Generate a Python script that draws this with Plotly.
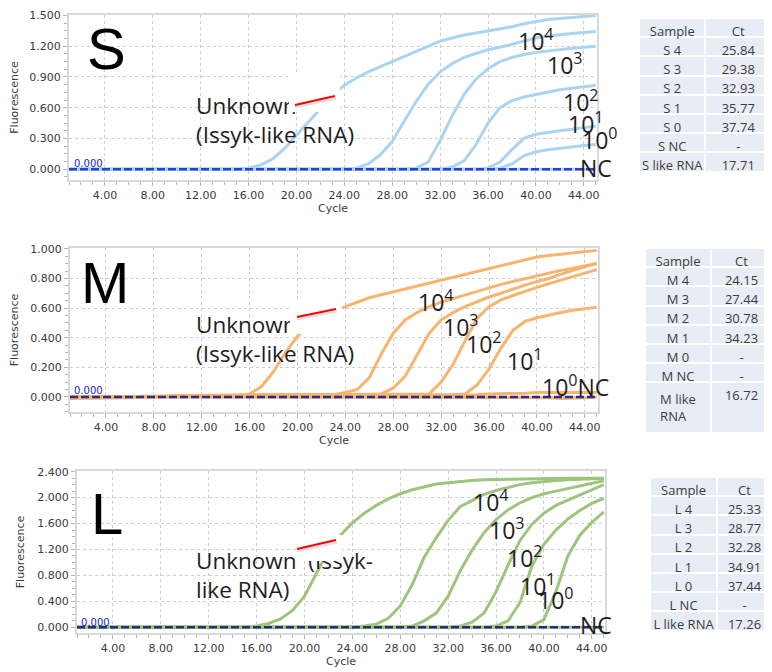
import plotly.graph_objects as go

W, H = 772, 672
OFF = 8  # the page body margin shifts the figure by 8 px
cycles = list(range(1, 46))

# ---------------- S segment ----------------
s_unknown = [0, 0, 0, 0, 0, 0, 0, 0, 0, 0, 0, 0, 0, 0, 0,
             0.01, 0.04, 0.10, 0.20, 0.33, 0.46, 0.60, 0.72, 0.82, 0.89,
             0.95, 1.00, 1.05, 1.10, 1.15, 1.20, 1.25, 1.28, 1.31, 1.33,
             1.35, 1.37, 1.39, 1.42, 1.44, 1.46, 1.47, 1.48, 1.49, 1.50]
s_1e4 = [0, 0, 0, 0, 0, 0, 0, 0, 0, 0, 0, 0, 0, 0, 0, 0, 0, 0, 0, 0,
         0, 0, 0, 0, 0.01, 0.05, 0.14, 0.27, 0.47, 0.66,
         0.83, 0.95, 1.03, 1.09, 1.13, 1.165, 1.19, 1.22, 1.25, 1.28,
         1.30, 1.315, 1.325, 1.335, 1.345]
s_1e3 = [0, 0, 0, 0, 0, 0, 0, 0, 0, 0, 0, 0, 0, 0, 0, 0, 0, 0, 0, 0,
         0, 0, 0, 0, 0, 0, 0, 0, 0, 0.01,
         0.07, 0.28, 0.52, 0.73, 0.88, 0.98, 1.05, 1.09, 1.12, 1.14,
         1.155, 1.17, 1.18, 1.19, 1.20]
s_1e2 = [0, 0, 0, 0, 0, 0, 0, 0, 0, 0, 0, 0, 0, 0, 0, 0, 0, 0, 0, 0,
         0, 0, 0, 0, 0, 0, 0, 0, 0, 0,
         0, 0, 0.02, 0.08, 0.24, 0.45, 0.60, 0.67, 0.705, 0.73,
         0.75, 0.775, 0.79, 0.805, 0.82]
s_1e1 = [0, 0, 0, 0, 0, 0, 0, 0, 0, 0, 0, 0, 0, 0, 0, 0, 0, 0, 0, 0,
         0, 0, 0, 0, 0, 0, 0, 0, 0, 0,
         0, 0, 0, 0, 0, 0.01, 0.07, 0.19, 0.30, 0.34,
         0.36, 0.375, 0.39, 0.405, 0.42]
s_1e0 = [0, 0, 0, 0, 0, 0, 0, 0, 0, 0, 0, 0, 0, 0, 0, 0, 0, 0, 0, 0,
         0, 0, 0, 0, 0, 0, 0, 0, 0, 0,
         0, 0, 0, 0, 0, 0, 0.01, 0.05, 0.13, 0.17,
         0.19, 0.205, 0.22, 0.23, 0.24]
s_nc = [0] * 45

# ---------------- M segment ----------------
m_unknown = [0, 0, 0, 0, 0, 0, 0, 0, 0, 0, 0, 0, 0, 0, 0.005,
             0.02, 0.07, 0.17, 0.30, 0.41, 0.48, 0.53, 0.58, 0.61, 0.64,
             0.67, 0.69, 0.71, 0.73, 0.75, 0.77, 0.79, 0.81, 0.83, 0.85,
             0.87, 0.89, 0.91, 0.93, 0.945, 0.955, 0.965, 0.975, 0.985, 0.99]
m_1e4 = [-0.01, -0.01, -0.01, -0.01, -0.01, -0.005, 0, 0, 0.005, 0.005,
         0.005, 0.005, 0.01, 0.01, 0.01, 0.01, 0.01, 0.01, 0.01, 0.01,
         0.01, 0.01, 0.015, 0.03, 0.05, 0.13, 0.29, 0.43, 0.52, 0.57,
         0.61, 0.64, 0.665, 0.69, 0.715, 0.74, 0.76, 0.78, 0.80, 0.82,
         0.84, 0.855, 0.87, 0.885, 0.90]
m_1e3 = [0, 0, 0, 0, 0, 0.005, 0.005, 0.005, 0.005, 0.01,
         0.01, 0.01, 0.01, 0.01, 0.01, 0.01, 0.01, 0.015, 0.015, 0.015,
         0.015, 0.015, 0.015, 0.015, 0.015, 0.015, 0.02, 0.06, 0.14, 0.28,
         0.43, 0.52, 0.57, 0.61, 0.645, 0.675, 0.70, 0.73, 0.755, 0.78,
         0.80, 0.83, 0.855, 0.88, 0.905]
m_1e2 = [-0.005, -0.005, -0.005, 0, 0, 0, 0.005, 0.005, 0.005, 0.005,
         0.01, 0.01, 0.01, 0.01, 0.01, 0.015, 0.015, 0.015, 0.02, 0.02,
         0.02, 0.02, 0.02, 0.02, 0.02, 0.02, 0.02, 0.02, 0.02, 0.02,
         0.02, 0.10, 0.22, 0.38, 0.53, 0.61, 0.655, 0.685, 0.715, 0.74,
         0.765, 0.79, 0.815, 0.84, 0.86]
m_1e1 = [0, 0, 0, 0, 0, 0, 0, 0, 0.005, 0.005,
         0.005, 0.005, 0.005, 0.01, 0.01, 0.01, 0.01, 0.01, 0.01, 0.01,
         0.015, 0.015, 0.015, 0.015, 0.015, 0.015, 0.015, 0.015, 0.015, 0.015,
         0.015, 0.015, 0.015, 0.02, 0.08, 0.19, 0.33, 0.45, 0.51, 0.535,
         0.555, 0.57, 0.585, 0.595, 0.605]
m_1e0 = [0, 0, 0, 0, 0, 0, 0, 0.005, 0.005, 0.005,
         0.005, 0.01, 0.01, 0.01, 0.01, 0.01, 0.01, 0.01, 0.015, 0.015,
         0.015, 0.015, 0.015, 0.015, 0.015, 0.015, 0.015, 0.015, 0.015, 0.015,
         0.015, 0.015, 0.015, 0.015, 0.015, 0.02, 0.02, 0.025, 0.025, 0.03,
         0.03, 0.03, 0.03, 0.03, 0.03]
m_nc = [0, 0, 0, 0, 0, 0, 0, 0, 0, 0,
        0, 0, 0, 0, 0, 0, 0, 0, 0, 0,
        0, 0, 0, 0, 0, 0, 0, 0, 0, 0,
        0, 0, 0, 0, 0, 0, 0, 0, 0, 0,
        -0.005, -0.01, -0.01, -0.005, 0]

# ---------------- L segment ----------------
l_unknown = [0, 0, 0, 0, 0, 0, 0, 0, 0, 0, 0, 0, 0, 0, 0,
             0.02, 0.06, 0.13, 0.26, 0.48, 0.84, 1.18, 1.42, 1.61, 1.76,
             1.88, 1.98, 2.06, 2.12, 2.17, 2.21, 2.23, 2.25, 2.265, 2.275,
             2.28, 2.285, 2.29, 2.29, 2.295, 2.295, 2.30, 2.30, 2.30, 2.30]
l_1e4 = [0, 0, 0, 0, 0, 0, 0, 0, 0, 0, 0, 0, 0, 0, 0, 0, 0, 0, 0, 0,
         0, 0, 0, 0, 0.02, 0.05, 0.14, 0.33, 0.66, 1.08,
         1.38, 1.65, 1.86, 1.96, 2.05, 2.11, 2.16, 2.20, 2.23, 2.25,
         2.265, 2.275, 2.285, 2.29, 2.29]
l_1e3 = [0, 0, 0, 0, 0, 0, 0, 0, 0, 0, 0, 0, 0, 0, 0, 0, 0, 0, 0, 0,
         0, 0, 0, 0, 0, 0, 0, 0, 0.02, 0.10,
         0.22, 0.48, 0.87, 1.19, 1.46, 1.66, 1.81, 1.92, 2.00, 2.06,
         2.10, 2.14, 2.18, 2.22, 2.26]
l_1e2 = [0, 0, 0, 0, 0, 0, 0, 0, 0, 0, 0, 0, 0, 0, 0, 0, 0, 0, 0, 0,
         0, 0, 0, 0, 0, 0, 0, 0, 0, 0,
         0, 0, 0.02, 0.08, 0.22, 0.55, 0.96, 1.34, 1.59, 1.76,
         1.88, 1.96, 2.04, 2.12, 2.20]
l_1e1 = [0, 0, 0, 0, 0, 0, 0, 0, 0, 0, 0, 0, 0, 0, 0, 0, 0, 0, 0, 0,
         0, 0, 0, 0, 0, 0, 0, 0, 0, 0,
         0, 0, 0, 0, 0, 0.02, 0.10, 0.38, 0.95, 1.28,
         1.50, 1.67, 1.80, 1.91, 1.99]
l_1e0 = [0, 0, 0, 0, 0, 0, 0, 0, 0, 0, 0, 0, 0, 0, 0, 0, 0, 0, 0, 0,
         0, 0, 0, 0, 0, 0, 0, 0, 0, 0,
         0, 0, 0, 0, 0, 0, 0, 0, 0.02, 0.12,
         0.55, 1.10, 1.42, 1.62, 1.78]
l_nc = [0] * 45

thresholds = [0.0, 0.0, 0.0]

# ---------------- Ct tables ----------------
NB = "\u00a0"
s_samples = ["S 4", "S 3", "S 2", "S 1", "S 0", "S NC", "S" + NB + "like" + NB + "RNA"]
s_ct = ["25.84", "29.38", "32.93", "35.77", "37.74", "-", "17.71"]
m_samples = ["M 4", "M 3", "M 2", "M 1", "M 0", "M NC", "M like<br>RNA"]
m_ct = ["24.15", "27.44", "30.78", "34.23", "-", "-", "16.72"]
l_samples = ["L 4", "L 3", "L 2", "L 1", "L 0", "L NC", "L" + NB + "like" + NB + "RNA"]
l_ct = ["25.33", "28.77", "32.28", "34.91", "37.44", "-", "17.26"]

dilution_labels = ["10<sup>4</sup>", "10<sup>3</sup>", "10<sup>2</sup>",
                   "10<sup>1</sup>", "10<sup>0</sup>"]

# ---------------- layout helpers (reference pixels -> paper) ----------------
FW, FH = W - OFF, H - OFF

def px(x):
    return (x - OFF) / FW

def py(y):
    return 1 - (y - OFF) / FH

def xd(a, b):
    return [px(a), px(b)]

def yd(top, bottom):
    return [max(0, py(bottom)), py(top)]

panels = [
    dict(name="S", series=[s_unknown, s_1e4, s_1e3, s_1e2, s_1e1, s_1e0, s_nc],
         color="#abd4f1", thr_color="#2a3fd4", xdom=(69, 597), ydom=(15, 180),
         yrange=[-0.106, 1.505], dtick=0.3, minor=0.075),
    dict(name="M", series=[m_unknown, m_1e4, m_1e3, m_1e2, m_1e1, m_1e0, m_nc],
         color="#f6b46e", thr_color="#2b2d8c", xdom=(70, 598), ydom=(248, 412),
         yrange=[-0.102, 1.006], dtick=0.2, minor=0.05),
    dict(name="L", series=[l_unknown, l_1e4, l_1e3, l_1e2, l_1e1, l_1e0, l_nc],
         color="#9fc47e", thr_color="#22307e", xdom=(77, 605), ydom=(471, 633),
         yrange=[-0.087, 2.41], dtick=0.4, minor=0.1),
]
series_names = ["Unknown (Issyk-like RNA)", "10^4", "10^3", "10^2", "10^1", "10^0", "NC"]

fig = go.Figure()
tick_font = dict(family="DejaVu Sans", size=11, color="#3a3a3a")
layout = dict(width=FW, height=FH, margin=dict(l=0, r=0, t=0, b=0),
              paper_bgcolor="white", plot_bgcolor="rgba(0,0,0,0)",
              showlegend=False)
shapes = []
annotations = []

for i, p in enumerate(panels):
    n = "" if i == 0 else str(i + 1)
    for s, nm in zip(p["series"], series_names):
        fig.add_trace(go.Scatter(x=cycles, y=s, mode="lines", name=p["name"] + " " + nm,
                                 line=dict(color=p["color"], width=3),
                                 xaxis="x" + n, yaxis="y" + n, hoverinfo="skip"))
    layout["xaxis" + n] = dict(
        domain=xd(*p["xdom"]), anchor="y" + n, range=[1, 45.1],
        tick0=0, dtick=4, tickformat=".2f", tickfont=tick_font,
        showgrid=True, gridcolor="#cdcdcd", griddash="dot", gridwidth=1,
        showline=True, linecolor="#d9d9d9", linewidth=2, mirror=True,
        ticks="outside", ticklen=4, tickcolor="#b5b5b5", zeroline=False,
        minor=dict(tick0=0, dtick=1, ticks="outside", ticklen=3,
                   tickcolor="#b5b5b5", showgrid=False),
        title=dict(text="Cycle", font=dict(family="DejaVu Sans", size=11, color="#3a3a3a"),
                   standoff=3),
        automargin=False, fixedrange=True)
    layout["yaxis" + n] = dict(
        domain=yd(*p["ydom"]), anchor="x" + n, range=p["yrange"],
        tick0=0, dtick=p["dtick"], tickformat=".3f", tickfont=tick_font,
        showgrid=True, gridcolor="#cdcdcd", griddash="dot", gridwidth=1,
        showline=True, linecolor="#d9d9d9", linewidth=2, mirror=True,
        ticks="outside", ticklen=4, tickcolor="#b5b5b5", zeroline=False,
        minor=dict(tick0=0, dtick=p["minor"], ticks="outside", ticklen=3,
                   tickcolor="#b5b5b5", showgrid=False),
        title=dict(text="Fluorescence", font=dict(family="DejaVu Sans", size=11, color="#3a3a3a"),
                   standoff=10),
        automargin=False, fixedrange=True)
    shapes.append(dict(type="line", xref="x" + n + " domain", yref="y" + n,
                       x0=0, x1=1, y0=thresholds[i], y1=thresholds[i], layer="above",
                       line=dict(color=p["thr_color"], width=2.5, dash="8px,3px")))

# overlay axis in reference-pixel units for the free text labels
layout["xaxis4"] = dict(domain=[0, 1], range=[OFF, W], visible=False, anchor="y4", fixedrange=True)
layout["yaxis4"] = dict(domain=[0, 1], range=[H, OFF], visible=False, anchor="x4", fixedrange=True)

unknown_texts = [("Unknown<br>(Issyk-like RNA)", 196, 123),
                 ("Unknown<br>(Issyk-like RNA)", 196, 342),
                 ("Unknown" + NB + " (Issyk-<br>like RNA)", 196, 578)]
for t, x, y in unknown_texts:
    fig.add_trace(go.Scatter(x=[x], y=[y], mode="text", text=[t], textposition="middle right",
                             textfont=dict(family="Open Sans", size=22.5, color="#1e1e1e"),
                             xaxis="x4", yaxis="y4", hoverinfo="skip", cliponaxis=False))

# white masking boxes (as in the original slide) and red pointer lines
for (x0, y0, x1, y1) in [(289, 73, 340, 112), (290, 302, 342, 334), (297, 535, 342, 561)]:
    shapes.append(dict(type="rect", xref="paper", yref="paper", x0=px(x0), x1=px(x1),
                       y0=py(y1), y1=py(y0), fillcolor="white", line=dict(width=0), layer="above"))
for (x0, y0, x1, y1) in [(295, 105, 335, 96), (297, 317, 336, 309), (297, 549, 336, 540)]:
    shapes.append(dict(type="line", xref="paper", yref="paper", x0=px(x0), x1=px(x1 + 1),
                       y0=py(y0 + 2), y1=py(y1 + 2), layer="above",
                       line=dict(color="rgba(0,0,0,0.12)", width=3)))
    shapes.append(dict(type="line", xref="paper", yref="paper", x0=px(x0), x1=px(x1),
                       y0=py(y0), y1=py(y1), layer="above",
                       line=dict(color="#ff0000", width=2)))

def ann(text, x, y, size, family="Open Sans", color="#1e1e1e", xanchor="left"):
    annotations.append(dict(text=text, x=px(x), y=py(y), xref="paper", yref="paper",
                            xanchor=xanchor, yanchor="middle", showarrow=False,
                            font=dict(family=family, size=size, color=color)))

# big segment letters
ann("S", 85, 49, 58, family="Liberation Sans", color="black")
ann("M", 79, 282, 58, family="Liberation Sans", color="black")
ann("L", 89, 513, 58, family="Liberation Sans", color="black")

# dilution labels
top_pos = [(516, 40), (545, 64), (561, 101), (566, 123), (580, 139)]
mid_pos = [(416, 301), (441, 326), (464, 343), (505, 360)]
bot_pos = [(471, 501), (487, 529), (505, 557), (518, 585), (536, 599)]
for lab, (x, y) in zip(dilution_labels, top_pos):
    ann(lab, x, y, 23)
ann("NC", 578, 168, 23)
for lab, (x, y) in zip(dilution_labels, mid_pos):
    ann(lab, x, y, 23)
ann(dilution_labels[4] + "NC", 540, 386, 23)
for lab, (x, y) in zip(dilution_labels, bot_pos):
    ann(lab, x, y, 23)
ann("NC", 578, 625, 23)

# threshold value labels
for (x, y) in [(72, 163), (72, 391), (79, 622)]:
    ann("0.000", x, y, 10, family="DejaVu Sans", color="#2222cc")

layout["shapes"] = shapes
layout["annotations"] = annotations
fig.update_layout(**layout)

# Ct tables
tbl_font = dict(family="Open Sans", size=13, color="#3c3c3c")
fill = "#e8ecf4"
for samples, cts, (x0, x1, split), (y0, y1) in [
        (s_samples, s_ct, (639, 772, 706), (18, 185)),
        (m_samples, m_ct, (645, 772, 711), (248, 440)),
        (l_samples, l_ct, (650, 772, 717), (477, 672))]:
    fig.add_trace(go.Table(
        domain=dict(x=xd(x0, x1), y=yd(y0, y1)),
        columnwidth=[split - x0, x1 - split],
        header=dict(values=["Sample", "Ct"], fill_color=fill, line=dict(color="white", width=2),
                    font=tbl_font, align="center", height=19.2),
        cells=dict(values=[samples, cts], fill_color=fill, line=dict(color="white", width=2),
                   font=tbl_font, align="center", height=19.2)))

fig.write_html("out.html")
